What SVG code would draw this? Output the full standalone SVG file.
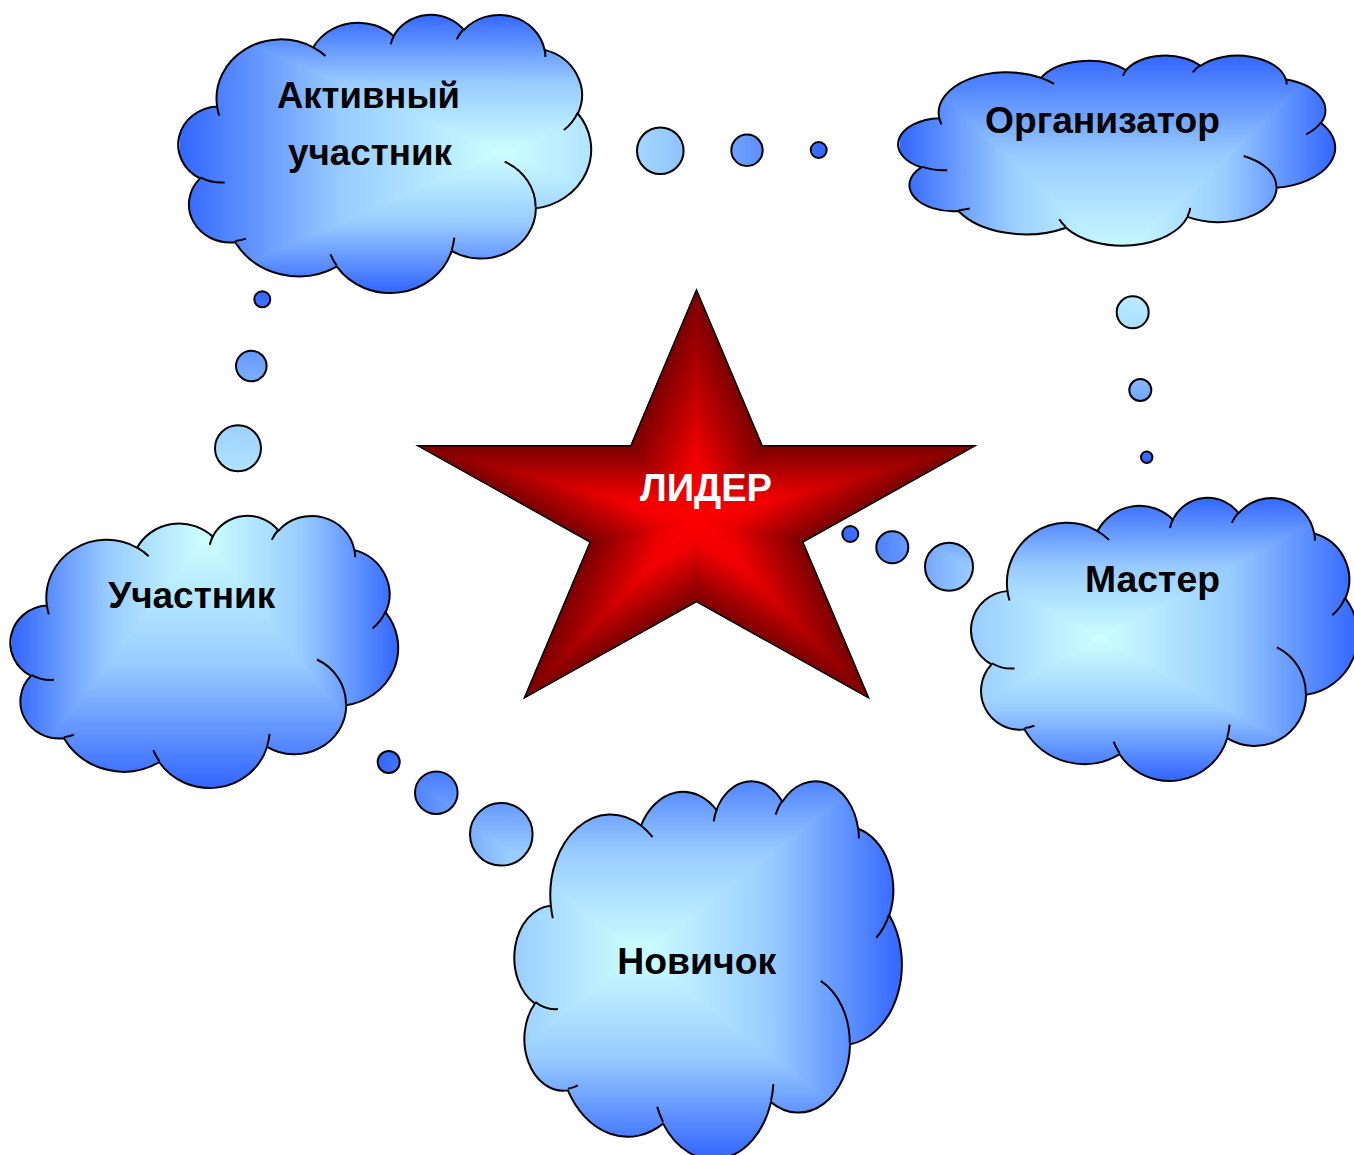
<svg xmlns="http://www.w3.org/2000/svg" xmlns:xlink="http://www.w3.org/1999/xlink" width="1354" height="1155" viewBox="0 0 1354 1155">
<style>
.ol{fill:none;stroke:#000;stroke-width:2;vector-effect:non-scaling-stroke;stroke-linejoin:round}
.bub{fill:none;stroke:#000;stroke-width:2}
.lbl{font-family:"Liberation Sans",Arial,sans-serif;font-weight:bold;font-size:36px;fill:#000;text-anchor:middle}
.lead{font-family:"Liberation Sans",Arial,sans-serif;font-weight:bold;font-size:38px;fill:#fff;text-anchor:middle}
</style>
<defs>
<path id="cloud" class="ol" d="M 9.03 33.26 A 15.63 21.27 0 0 1 32.42 12.04 A 12.35 16.82 0 0 1 51.98 7.94 A 10.10 13.76 0 0 1 69.06 5.74 A 11.24 15.27 0 0 1 88.70 12.91 A 12.35 16.84 0 0 1 96.80 35.79 A 15.68 21.34 0 0 1 86.59 69.92 A 13.39 18.21 0 0 1 66.10 85.22 A 15.63 21.33 0 0 1 38.15 90.90 A 17.87 24.41 0 0 1 13.44 82.11 A 10.09 13.70 0 0 1 4.89 59.14 A 10.06 13.76 0 0 1 9.03 33.26 Z"/>
<path id="arcs" class="ol" d="M 10.86 60.60 A 10.06 13.76 0 0 1 5.00 58.75 M 16.04 80.78 A 10.09 13.70 0 0 1 13.47 81.67 M 38.14 90.49 A 15.63 21.33 0 0 1 36.60 86.46 M 66.73 80.44 A 15.63 21.33 0 0 1 66.11 84.86 M 79.00 53.13 A 13.39 18.21 0 0 1 86.53 69.65 M 96.75 35.54 A 12.35 16.84 0 0 1 93.40 41.74 M 88.71 12.56 A 11.24 15.27 0 0 1 88.89 15.49 M 67.31 9.15 A 11.24 15.27 0 0 1 69.03 5.41 M 51.25 10.93 A 10.10 13.76 0 0 1 52.08 7.71 M 32.41 12.02 A 15.63 21.27 0 0 1 35.42 15.14 M 9.55 36.55 A 15.63 21.27 0 0 1 9.03 33.27"/>
<linearGradient id="cg" gradientUnits="userSpaceOnUse"><stop offset="0" stop-color="#3366FF"/><stop offset="0.5" stop-color="#99CCFF"/><stop offset="1" stop-color="#CCFFFF"/></linearGradient>
<linearGradient id="sg" gradientUnits="userSpaceOnUse"><stop offset="0" stop-color="#7A0000"/><stop offset="0.3" stop-color="#AA0000"/><stop offset="0.7" stop-color="#EE0000"/><stop offset="1" stop-color="#FF0000"/></linearGradient>
<!-- cloud A -->
<linearGradient id="aT" href="#cg" gradientUnits="userSpaceOnUse" x1="503.5" y1="14" x2="503.5" y2="153"/>
<linearGradient id="aB" href="#cg" gradientUnits="userSpaceOnUse" x1="503.5" y1="292" x2="503.5" y2="153"/>
<linearGradient id="aL" href="#cg" gradientUnits="userSpaceOnUse" x1="180" y1="153" x2="503.5" y2="153"/>
<linearGradient id="aR" href="#cg" gradientUnits="userSpaceOnUse" x1="827" y1="153" x2="503.5" y2="153"/>
<!-- cloud O -->
<linearGradient id="oT" href="#cg" gradientUnits="userSpaceOnUse" x1="1117.5" y1="55" x2="1117.5" y2="259"/>
<linearGradient id="oB" href="#cg" gradientUnits="userSpaceOnUse" x1="1117.5" y1="463" x2="1117.5" y2="259"/>
<linearGradient id="oL" href="#cg" gradientUnits="userSpaceOnUse" x1="900" y1="259" x2="1117.5" y2="259"/>
<linearGradient id="oR" href="#cg" gradientUnits="userSpaceOnUse" x1="1335" y1="259" x2="1117.5" y2="259"/>
<!-- cloud U -->
<linearGradient id="uT" href="#cg" gradientUnits="userSpaceOnUse" x1="205" y1="291" x2="205" y2="539"/>
<linearGradient id="uB" href="#cg" gradientUnits="userSpaceOnUse" x1="205" y1="787" x2="205" y2="539"/>
<linearGradient id="uL" href="#cg" gradientUnits="userSpaceOnUse" x1="12" y1="539" x2="205" y2="539"/>
<linearGradient id="uR" href="#cg" gradientUnits="userSpaceOnUse" x1="398" y1="539" x2="205" y2="539"/>
<!-- cloud M -->
<linearGradient id="mT" href="#cg" gradientUnits="userSpaceOnUse" x1="1100" y1="497" x2="1100" y2="638.5"/>
<linearGradient id="mB" href="#cg" gradientUnits="userSpaceOnUse" x1="1100" y1="780" x2="1100" y2="638.5"/>
<linearGradient id="mL" href="#cg" gradientUnits="userSpaceOnUse" x1="842" y1="638.5" x2="1100" y2="638.5"/>
<linearGradient id="mR" href="#cg" gradientUnits="userSpaceOnUse" x1="1358" y1="638.5" x2="1100" y2="638.5"/>
<!-- cloud N -->
<linearGradient id="nT" href="#cg" gradientUnits="userSpaceOnUse" x1="640" y1="751" x2="640" y2="954.5"/>
<linearGradient id="nB" href="#cg" gradientUnits="userSpaceOnUse" x1="640" y1="1158" x2="640" y2="954.5"/>
<linearGradient id="nL" href="#cg" gradientUnits="userSpaceOnUse" x1="378" y1="954.5" x2="640" y2="954.5"/>
<linearGradient id="nR" href="#cg" gradientUnits="userSpaceOnUse" x1="902" y1="954.5" x2="640" y2="954.5"/>
<!-- star -->
<linearGradient id="sA" href="#sg" gradientUnits="userSpaceOnUse" x1="778.8" y1="485.2" x2="696.5" y2="520"/>
<linearGradient id="sB" href="#sg" gradientUnits="userSpaceOnUse" x1="696.5" y1="445.8" x2="696.5" y2="520"/>
<linearGradient id="sD" href="#sg" gradientUnits="userSpaceOnUse" x1="731.2" y1="582.1" x2="696.5" y2="520"/>
<linearGradient id="sE" href="#sg" gradientUnits="userSpaceOnUse" x1="661.8" y1="582.1" x2="696.5" y2="520"/>
<linearGradient id="sF" href="#sg" gradientUnits="userSpaceOnUse" x1="614.2" y1="485.2" x2="696.5" y2="520"/>
<clipPath id="clipA"><use href="#cloud" transform="translate(180 14) scale(4.11 2.78)"/><circle cx="660.3" cy="150.7" r="23.3"/><circle cx="747" cy="150.3" r="15.7"/><circle cx="818.7" cy="150" r="8"/></clipPath>
<clipPath id="clipO"><use href="#cloud" transform="translate(900 55) scale(4.35 1.90)"/><circle cx="1132.7" cy="312.3" r="16"/><circle cx="1140.3" cy="390" r="11"/><circle cx="1146.7" cy="457.3" r="5.7"/></clipPath>
<clipPath id="clipU"><use href="#cloud" transform="translate(12 515) scale(3.86 2.72)"/><circle cx="238" cy="448.3" r="23"/><circle cx="251.3" cy="366" r="15.3"/><circle cx="262.3" cy="299.3" r="8"/></clipPath>
<clipPath id="clipM"><use href="#cloud" transform="translate(972.7 497) scale(3.85 2.83)"/><circle cx="949" cy="566.7" r="24"/><circle cx="892.3" cy="547.3" r="16"/><circle cx="850.3" cy="534" r="8"/></clipPath>
<clipPath id="clipN"><use href="#cloud" transform="translate(516 780) scale(3.857 3.78)"/><circle cx="501.3" cy="834.3" r="31.3"/><circle cx="436.3" cy="792.7" r="21.3"/><circle cx="388.7" cy="762" r="11"/></clipPath>
</defs>
<rect width="1354" height="1155" fill="#fff"/>

<g id="node-aktivny">
<g clip-path="url(#clipA)">
<polygon points="180,14 827,14 503.5,153" fill="url(#aT)" stroke="url(#aT)"/>
<polygon points="180,292 827,292 503.5,153" fill="url(#aB)" stroke="url(#aB)"/>
<polygon points="180,14 180,292 503.5,153" fill="url(#aL)" stroke="url(#aL)"/>
<polygon points="827,14 827,292 503.5,153" fill="url(#aR)" stroke="url(#aR)"/>
</g>
<use href="#cloud" transform="translate(180 14) scale(4.11 2.78)"/>
<use href="#arcs" transform="translate(180 14) scale(4.11 2.78)"/>
<text class="lbl" x="368.5" y="108" textLength="183" lengthAdjust="spacingAndGlyphs">Активный</text>
<text class="lbl" x="370" y="165" textLength="164" lengthAdjust="spacingAndGlyphs">участник</text>
</g>

<g id="node-organizator">
<g clip-path="url(#clipO)">
<polygon points="900,55 1335,55 1117.5,259" fill="url(#oT)" stroke="url(#oT)"/>
<polygon points="900,463 1335,463 1117.5,259" fill="url(#oB)" stroke="url(#oB)"/>
<polygon points="900,55 900,463 1117.5,259" fill="url(#oL)" stroke="url(#oL)"/>
<polygon points="1335,55 1335,463 1117.5,259" fill="url(#oR)" stroke="url(#oR)"/>
</g>
<use href="#cloud" transform="translate(900 55) scale(4.35 1.90)"/>
<use href="#arcs" transform="translate(900 55) scale(4.35 1.90)"/>
<text class="lbl" x="1102.5" y="133" textLength="235" lengthAdjust="spacingAndGlyphs">Организатор</text>
</g>

<g id="node-uchastnik">
<g clip-path="url(#clipU)">
<polygon points="12,291 398,291 205,539" fill="url(#uT)" stroke="url(#uT)"/>
<polygon points="12,787 398,787 205,539" fill="url(#uB)" stroke="url(#uB)"/>
<polygon points="12,291 12,787 205,539" fill="url(#uL)" stroke="url(#uL)"/>
<polygon points="398,291 398,787 205,539" fill="url(#uR)" stroke="url(#uR)"/>
</g>
<use href="#cloud" transform="translate(12 515) scale(3.86 2.72)"/>
<use href="#arcs" transform="translate(12 515) scale(3.86 2.72)"/>
<text class="lbl" x="191.7" y="608" textLength="167" lengthAdjust="spacingAndGlyphs">Участник</text>
</g>

<g id="node-master">
<g clip-path="url(#clipM)">
<polygon points="842,497 1358,497 1100,638.5" fill="url(#mT)" stroke="url(#mT)"/>
<polygon points="842,780 1358,780 1100,638.5" fill="url(#mB)" stroke="url(#mB)"/>
<polygon points="842,497 842,780 1100,638.5" fill="url(#mL)" stroke="url(#mL)"/>
<polygon points="1358,497 1358,780 1100,638.5" fill="url(#mR)" stroke="url(#mR)"/>
</g>
<use href="#cloud" transform="translate(972.7 497) scale(3.85 2.83)"/>
<use href="#arcs" transform="translate(972.7 497) scale(3.85 2.83)"/>
<text class="lbl" x="1152.5" y="592" textLength="135" lengthAdjust="spacingAndGlyphs">Мастер</text>
</g>

<g id="node-novichok">
<g clip-path="url(#clipN)">
<polygon points="378,751 902,751 640,954.5" fill="url(#nT)" stroke="url(#nT)"/>
<polygon points="378,1158 902,1158 640,954.5" fill="url(#nB)" stroke="url(#nB)"/>
<polygon points="378,751 378,1158 640,954.5" fill="url(#nL)" stroke="url(#nL)"/>
<polygon points="902,751 902,1158 640,954.5" fill="url(#nR)" stroke="url(#nR)"/>
</g>
<use href="#cloud" transform="translate(516 780) scale(3.857 3.78)"/>
<use href="#arcs" transform="translate(516 780) scale(3.857 3.78)"/>
<text class="lbl" x="696.7" y="974" textLength="159" lengthAdjust="spacingAndGlyphs">Новичок</text>
</g>

<g id="node-lider">
<polygon points="696.5,290 762.2,445.8 975,445.8 802.8,542.1 868.6,697.9 696.5,601.6 524.4,697.9 590.2,542.1 418,445.8 630.8,445.8" fill="#800000"/>
<g stroke-width="0.8">
<polygon points="696.5,520 696.5,290 762.2,445.8" fill="url(#sA)" stroke="url(#sA)"/>
<polygon points="696.5,520 762.2,445.8 975,445.8" fill="url(#sB)" stroke="url(#sB)"/>
<polygon points="696.5,520 975,445.8 802.8,542.1" fill="url(#sD)" stroke="url(#sD)"/>
<polygon points="696.5,520 802.8,542.1 868.6,697.9" fill="url(#sA)" stroke="url(#sA)"/>
<polygon points="696.5,520 868.6,697.9 696.5,601.6" fill="url(#sE)" stroke="url(#sE)"/>
<polygon points="696.5,520 696.5,601.6 524.4,697.9" fill="url(#sD)" stroke="url(#sD)"/>
<polygon points="696.5,520 524.4,697.9 590.2,542.1" fill="url(#sF)" stroke="url(#sF)"/>
<polygon points="696.5,520 590.2,542.1 418,445.8" fill="url(#sE)" stroke="url(#sE)"/>
<polygon points="696.5,520 418,445.8 630.8,445.8" fill="url(#sB)" stroke="url(#sB)"/>
<polygon points="696.5,520 630.8,445.8 696.5,290" fill="url(#sF)" stroke="url(#sF)"/>
</g>
<polygon points="696.5,290 762.2,445.8 975,445.8 802.8,542.1 868.6,697.9 696.5,601.6 524.4,697.9 590.2,542.1 418,445.8 630.8,445.8" fill="none" stroke="#000" stroke-width="1.5" stroke-linejoin="miter"/>
<text class="lead" x="706" y="501" textLength="132" lengthAdjust="spacingAndGlyphs">ЛИДЕР</text>
</g>

<g id="connectors">
<circle class="bub" cx="660.3" cy="150.7" r="23.3"/><circle class="bub" cx="747" cy="150.3" r="15.7"/><circle class="bub" cx="818.7" cy="150" r="8"/>
<circle class="bub" cx="1132.7" cy="312.3" r="16"/><circle class="bub" cx="1140.3" cy="390" r="11"/><circle class="bub" cx="1146.7" cy="457.3" r="5.7"/>
<circle class="bub" cx="238" cy="448.3" r="23"/><circle class="bub" cx="251.3" cy="366" r="15.3"/><circle class="bub" cx="262.3" cy="299.3" r="8"/>
<circle class="bub" cx="949" cy="566.7" r="24"/><circle class="bub" cx="892.3" cy="547.3" r="16"/><circle class="bub" cx="850.3" cy="534" r="8"/>
<circle class="bub" cx="501.3" cy="834.3" r="31.3"/><circle class="bub" cx="436.3" cy="792.7" r="21.3"/><circle class="bub" cx="388.7" cy="762" r="11"/>
</g>
</svg>
